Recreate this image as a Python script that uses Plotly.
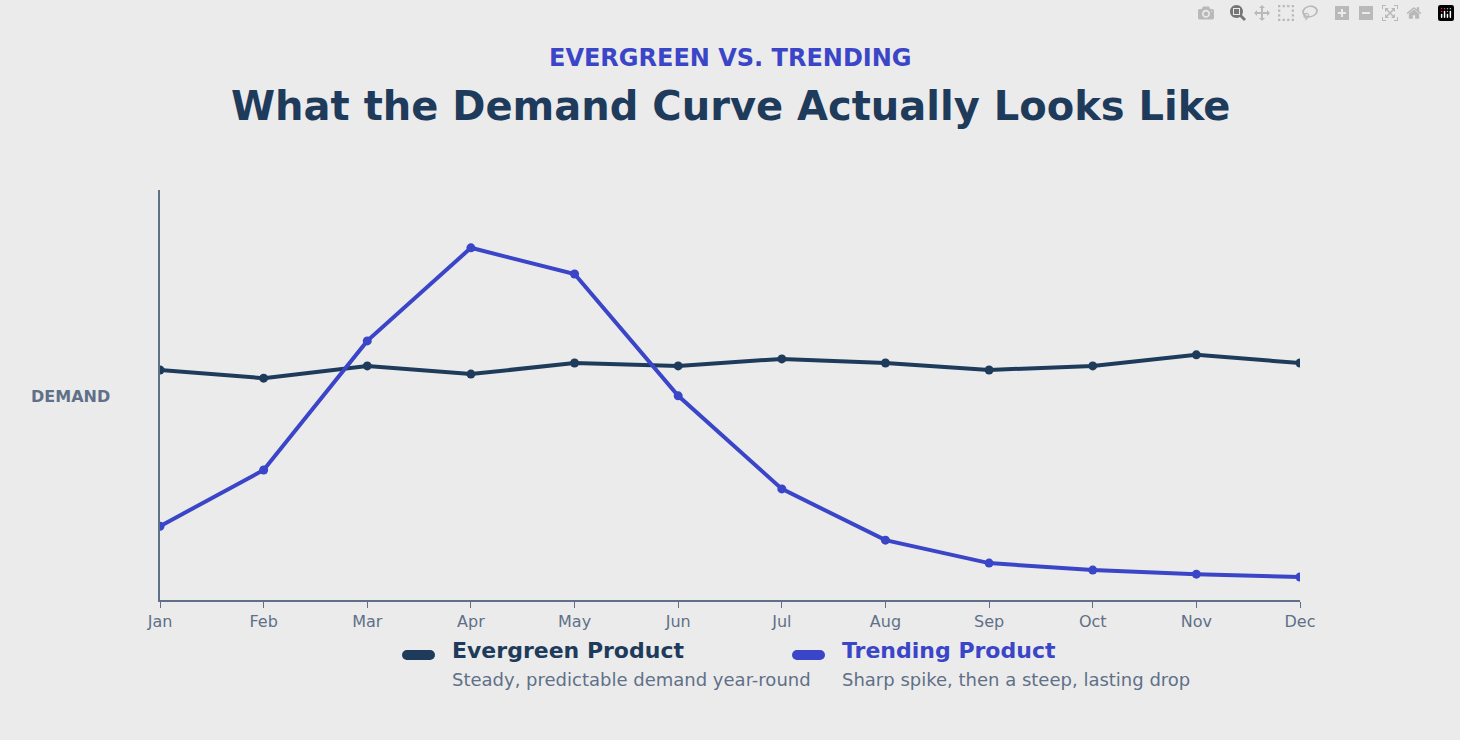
import plotly.graph_objects as go

months = ["Jan","Feb","Mar","Apr","May","Jun","Jul","Aug","Sep","Oct","Nov","Dec"]
evergreen = [56.1,54.1,57.1,55.1,57.8,57.1,58.8,57.8,56.1,57.1,59.8,57.8]
trending = [18.0,31.7,63.2,85.9,79.5,49.8,27.1,14.6,9.0,7.3,6.3,5.6]

DARK = "#1f3b5b"; BLUE = "#3a45c8"; GREY = "#5f7088"; BG = "#ebebeb"
F = "DejaVu Sans"

fig = go.Figure()
fig.add_trace(go.Scatter(x=months, y=evergreen, mode="lines+markers",
    line=dict(color=DARK, width=4), marker=dict(size=9, color=DARK), showlegend=False))
fig.add_trace(go.Scatter(x=months, y=trending, mode="lines+markers",
    line=dict(color=BLUE, width=4), marker=dict(size=9, color=BLUE), showlegend=False))

fig.update_layout(
    width=1460, height=740, paper_bgcolor=BG, plot_bgcolor=BG,
    margin=dict(l=160, r=160, t=190, b=140),
    font=dict(family=F, color=GREY),
    xaxis=dict(showgrid=False, showline=True, linecolor=GREY, linewidth=1.5,
               ticks="outside", tickcolor=GREY, ticklen=6, tickfont=dict(size=16, color=GREY),
               range=[0, 11], zeroline=False),
    yaxis=dict(showgrid=False, showline=True, linecolor=GREY, linewidth=1.5,
               showticklabels=False, range=[0, 100], zeroline=False),
)
ann = [
    dict(text="<b>EVERGREEN VS. TRENDING</b>", x=730, y=58, font=dict(size=24, color=BLUE)),
    dict(text="<b>What the Demand Curve Actually Looks Like</b>", x=730, y=106, font=dict(size=40, color=DARK)),
    dict(text="<b>DEMAND</b>", x=70, y=396, font=dict(size=16, color=GREY)),
    dict(text="<b>Evergreen Product</b>", x=450, y=650, xanchor="left", font=dict(size=22, color=DARK)),
    dict(text="Steady, predictable demand year-round", x=450, y=679, xanchor="left", font=dict(size=18, color=GREY)),
    dict(text="<b>Trending Product</b>", x=840, y=650, xanchor="left", font=dict(size=22, color=BLUE)),
    dict(text="Sharp spike, then a steep, lasting drop", x=840, y=679, xanchor="left", font=dict(size=18, color=GREY)),
]
for a in ann:
    xa = a.pop("xanchor", "center")
    fig.add_annotation(xref="paper", yref="paper", x=(a.pop("x")-160)/1140,
                       y=(600-a.pop("y"))/410, xanchor=xa, yanchor="middle",
                       showarrow=False, **a)
for x0, c in [(402, DARK), (792, BLUE)]:
    fig.add_shape(type="line", xref="paper", yref="paper",
                  x0=(x0+4-160)/1140, x1=(x0+28-160)/1140, y0=(600-655)/410, y1=(600-655)/410,
                  line=dict(color=c, width=10))
    for cx in (x0 + 5, x0 + 28):
        fig.add_shape(type="circle", xref="paper", yref="paper",
                      x0=(cx-5-160)/1140, x1=(cx+5-160)/1140,
                      y0=(600-660)/410, y1=(600-650)/410,
                      fillcolor=c, line=dict(width=0))
fig.write_html("out.html")
with open("out.html", encoding="utf-8") as f:
    html = f.read()
html = html.replace("<head>", "<head><style>html,body{margin:0;padding:0;background:#ebebeb;}</style>", 1)
with open("out.html", "w", encoding="utf-8") as f:
    f.write(html)
